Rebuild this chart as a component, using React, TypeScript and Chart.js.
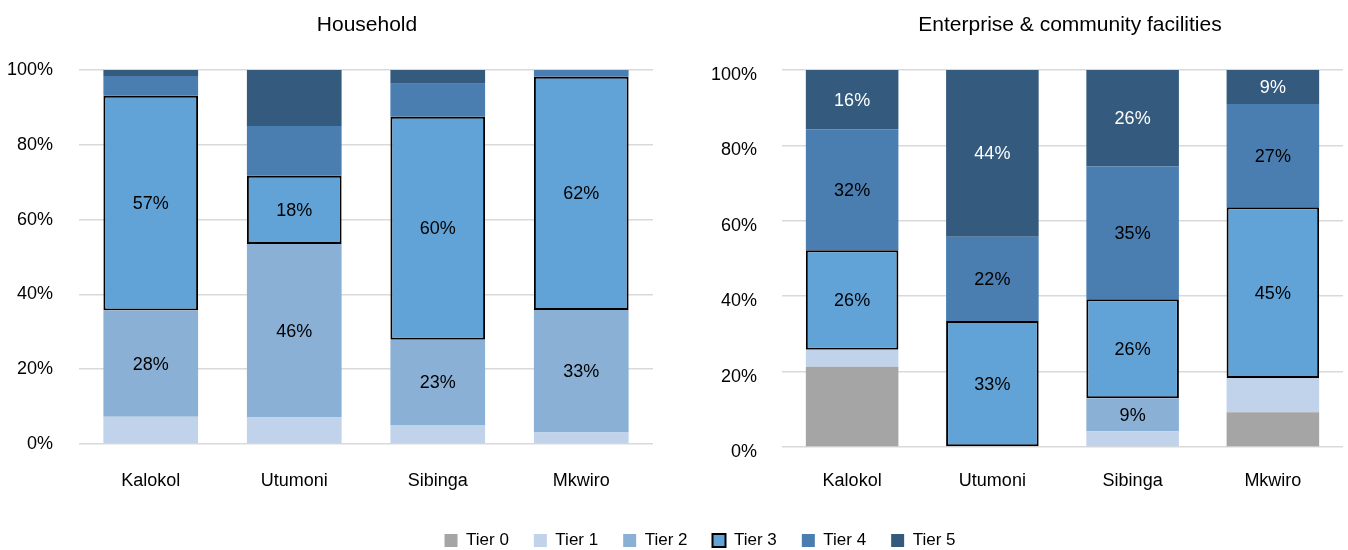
import React, { useEffect, useRef } from 'react';
import { Chart, registerables } from 'chart.js';

Chart.register(...registerables);

// ---------- data ----------
const categories = ['Kalokol', 'Utumoni', 'Sibinga', 'Mkwiro'];
const tierNames = ['Tier 0', 'Tier 1', 'Tier 2', 'Tier 3', 'Tier 4', 'Tier 5'];
const yTickValues = [0, 20, 40, 60, 80, 100];

const householdTier0 = [0, 0, 0, 0];
const householdTier1 = [7.3, 7.1, 5.1, 3.1];
const householdTier2 = [28.4, 46.4, 22.8, 32.7];
const householdTier3 = [57.4, 18.2, 59.6, 62.4];
const householdTier4 = [5.3, 13.3, 8.8, 1.8];
const householdTier5 = [1.6, 15.0, 3.7, 0];

const enterpriseTier0 = [21.3, 0, 0, 9.2];
const enterpriseTier1 = [4.5, 0, 4.2, 9.1];
const enterpriseTier2 = [0, 0, 8.7, 0];
const enterpriseTier3 = [26.4, 33.4, 26.3, 45.3];
const enterpriseTier4 = [32.1, 22.4, 35.3, 27.4];
const enterpriseTier5 = [15.7, 44.2, 25.5, 9.0];

const householdTitle = 'Household';
const enterpriseTitle = 'Enterprise & community facilities';

// ---------- styles ----------
const FONT = '"Liberation Sans", Arial, Helvetica, sans-serif';
const tierColors = ['#A5A5A5', '#C0D3EA', '#8BB0D5', '#62A3D7', '#4A7DB0', '#345B7E'];
const labelColors = ['#000', '#000', '#000', '#000', '#000', '#fff'];
const GRID = '#D9D9D9';

function makeDatasets(series: (number | null)[][]) {
  return series.map((data, i) => ({
    label: tierNames[i],
    data,
    backgroundColor: tierColors[i],
    borderColor: i === 3 ? '#000000' : tierColors[i],
    borderWidth: i === 3 ? 2 : 0,
    borderSkipped: false as const,
    barPercentage: 0.66,
    categoryPercentage: 1.0,
  }));
}

const segLabelPlugin = {
  id: 'segLabels',
  afterDatasetsDraw(chart: any, _args: any, opts: any) {
    const ctx = chart.ctx;
    const sets: number[] = opts.sets || [];
    ctx.save();
    ctx.font = `18px ${FONT}`;
    ctx.textAlign = 'center';
    ctx.textBaseline = 'middle';
    sets.forEach((di) => {
      const meta = chart.getDatasetMeta(di);
      const ds = chart.data.datasets[di];
      meta.data.forEach((el: any, i: number) => {
        const v = ds.data[i] as number;
        if (!v) return;
        const p = el.getProps(['x', 'y', 'base'], true);
        ctx.fillStyle = labelColors[di];
        ctx.fillText(Math.round(v) + '%', p.x, (p.y + p.base) / 2 + 1);
      });
    });
    ctx.restore();
  },
};

const panelTitlePlugin = {
  id: 'panelTitle',
  afterDraw(chart: any, _args: any, opts: any) {
    const ctx = chart.ctx;
    ctx.save();
    ctx.font = `21px ${FONT}`;
    ctx.fillStyle = '#000';
    ctx.textAlign = 'center';
    ctx.textBaseline = 'middle';
    ctx.fillText(opts.text, opts.x, opts.y);
    ctx.restore();
  },
};

type PanelProps = {
  series: number[][];
  title: string;
  titleX: number;
  labelSets: number[];
  width: number;
  height: number;
  left: number;
  yAxisWidth: number;
  yPad: number;
  yLabelOffset: number;
  areaTop: number;
  areaBottom: number;
  rightPad: number;
  xPad: number;
};

function Panel(p: PanelProps) {
  const ref = useRef<HTMLCanvasElement | null>(null);
  useEffect(() => {
    if (!ref.current) return;
    const chart = new Chart(ref.current, {
      type: 'bar',
      data: { labels: categories, datasets: makeDatasets(p.series) as any },
      plugins: [segLabelPlugin, panelTitlePlugin],
      options: {
        responsive: false,
        animation: false,
        layout: { padding: { top: p.areaTop, right: p.rightPad, left: 0, bottom: 0 } },
        plugins: {
          legend: { display: false },
          tooltip: { enabled: false },
          title: { display: false },
          segLabels: { sets: p.labelSets },
          panelTitle: { text: p.title, x: p.titleX, y: 25 },
        } as any,
        scales: {
          x: {
            stacked: true,
            grid: { display: false, drawTicks: false },
            border: { display: false },
            ticks: { font: { size: 18, family: FONT }, color: '#000', padding: p.xPad },
            afterFit: (s: any) => {
              s.height = p.height - p.areaBottom;
            },
          },
          y: {
            stacked: true,
            min: 0,
            max: 100,
            afterBuildTicks: (s: any) => {
              s.ticks = yTickValues.map((v) => ({ value: v }));
            },
            grid: { color: GRID, lineWidth: 1.5, drawTicks: false },
            border: { display: false },
            ticks: {
              font: { size: 18, family: FONT },
              color: '#000',
              padding: p.yPad,
              labelOffset: p.yLabelOffset,
              callback: (v: any) => v + '%',
            },
            afterFit: (s: any) => {
              s.width = p.yAxisWidth;
            },
          },
        },
      } as any,
    });
    return () => chart.destroy();
  }, []);
  return (
    <canvas
      ref={ref}
      width={p.width}
      height={p.height}
      style={{ position: 'absolute', left: p.left, top: 0, display: 'block' }}
    />
  );
}

function LegendStrip() {
  const ref = useRef<HTMLCanvasElement | null>(null);
  useEffect(() => {
    if (!ref.current) return;
    const chart = new Chart(ref.current, {
      type: 'bar',
      data: {
        labels: [''],
        datasets: makeDatasets(tierNames.map(() => [null])) as any,
      },
      options: {
        responsive: false,
        animation: false,
        layout: { padding: 0 },
        scales: { x: { display: false }, y: { display: false, min: 0, max: 1 } },
        plugins: {
          tooltip: { enabled: false },
          legend: {
            display: true,
            position: 'top',
            maxHeight: 200,
            labels: {
              font: { size: 17, family: FONT },
              color: '#000',
              boxWidth: 13,
              boxHeight: 13,
              padding: 25,
            },
          },
        },
      } as any,
    });
    return () => chart.destroy();
  }, []);
  return (
    <canvas
      ref={ref}
      width={1296}
      height={220}
      style={{ position: 'absolute', left: 52, top: 507, display: 'block' }}
    />
  );
}

export default function App() {
  return (
    <div style={{ position: 'absolute', left: 0, top: 0, width: 1348, height: 550, overflow: 'hidden', background: '#fff' }}>
      <Panel
        series={[householdTier0, householdTier1, householdTier2, householdTier3, householdTier4, householdTier5]}
        title={householdTitle}
        titleX={367}
        labelSets={[2, 3]}
        width={665}
        height={505}
        left={0}
        yAxisWidth={79}
        yPad={26}
        yLabelOffset={0}
        areaTop={70}
        areaBottom={444}
        rightPad={12}
        xPad={26}
      />
      <Panel
        series={[enterpriseTier0, enterpriseTier1, enterpriseTier2, enterpriseTier3, enterpriseTier4, enterpriseTier5]}
        title={enterpriseTitle}
        titleX={390}
        labelSets={[2, 3, 4, 5]}
        width={668}
        height={505}
        left={680}
        yAxisWidth={102}
        yPad={25}
        yLabelOffset={5}
        areaTop={70}
        areaBottom={447}
        rightPad={5}
        xPad={23}
      />
      <LegendStrip />
    </div>
  );
}
